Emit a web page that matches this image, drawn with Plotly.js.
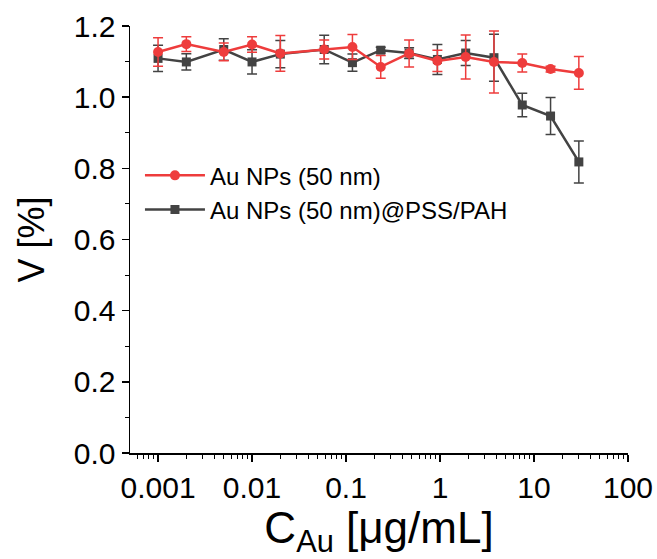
<!DOCTYPE html>
<html>
<head>
<meta charset="utf-8">
<script src="https://cdn.plot.ly/plotly-3.0.1.min.js"></script>
<style>html,body{margin:0;padding:0;background:#fff;}#chart{width:657px;height:559px;}</style>
</head>
<body>
<div id="chart"></div>
<script>
// Concentration of Au (µg/mL)
const concentrations = [0.001, 0.002, 0.005, 0.01, 0.02, 0.0586, 0.117, 0.234, 0.469, 0.9375, 1.875, 3.75, 7.5, 15, 30];

// Au NPs (50 nm)
const bareValues = [1.127, 1.149, 1.127, 1.148, 1.123, 1.134, 1.141, 1.085, 1.123, 1.102, 1.113, 1.099, 1.096, 1.079, 1.068];
const bareErrors = [0.040, 0.021, 0.025, 0.022, 0.050, 0.027, 0.035, 0.032, 0.038, 0.030, 0.062, 0.087, 0.025, 0.008, 0.046];

// Au NPs (50 nm)@PSS/PAH
const coatedValues = [1.109, 1.099, 1.134, 1.099, 1.121, 1.134, 1.097, 1.132, 1.124, 1.106, 1.124, 1.111, 0.978, 0.947, 0.818];
const coatedErrors = [0.037, 0.023, 0.030, 0.034, 0.038, 0.040, 0.024, 0.008, 0.015, 0.042, 0.035, 0.066, 0.033, 0.052, 0.059];

const xTickVals = [0.001, 0.01, 0.1, 1, 10, 100];
const xTickText = ["0.001", "0.01", "0.1", "1", "10", "100"];
const yTickVals = [0.0, 0.2, 0.4, 0.6, 0.8, 1.0, 1.2];
const yTickText = ["0.0", "0.2", "0.4", "0.6", "0.8", "1.0", "1.2"];

const RED = '#ee3c3c';
const GRAY = '#434343';
const FONT = 'Liberation Sans, Arial, sans-serif';

const traces = [
  {
    x: concentrations, y: coatedValues, name: 'Au NPs (50 nm)@PSS/PAH',
    type: 'scatter', mode: 'lines+markers', legendrank: 2,
    line: {color: GRAY, width: 2.5},
    marker: {symbol: 'square', size: 9, color: GRAY},
    error_y: {type: 'data', array: coatedErrors, visible: true, color: GRAY, thickness: 1.5, width: 5}
  },
  {
    x: concentrations, y: bareValues, name: 'Au NPs (50 nm)',
    type: 'scatter', mode: 'lines+markers', legendrank: 1,
    line: {color: RED, width: 2.5},
    marker: {symbol: 'circle', size: 10, color: RED},
    error_y: {type: 'data', array: bareErrors, visible: true, color: RED, thickness: 1.5, width: 5}
  }
];

const layout = {
  width: 657, height: 559,
  margin: {l: 130, r: 29, t: 26, b: 106},
  paper_bgcolor: '#fff', plot_bgcolor: '#fff',
  font: {family: FONT, color: '#000'},
  showlegend: true,
  legend: {
    x: 0.02, y: 0.702, xanchor: 'left', yanchor: 'top',
    bgcolor: 'rgba(0,0,0,0)', font: {family: FONT, size: 24, color: '#000'},
    tracegroupgap: 0, itemwidth: 60
  },
  xaxis: {
    type: 'log', range: [Math.log10(0.000503), 2],
    tickmode: 'array', tickvals: xTickVals, ticktext: xTickText,
    ticks: 'outside', ticklen: 7, tickwidth: 1.5, tickcolor: '#000',
    minor: {ticks: 'outside', ticklen: 4, tickwidth: 1, tickcolor: '#000', dtick: 'D1', showgrid: false},
    showline: true, linecolor: '#000', linewidth: 1.5,
    showgrid: false, zeroline: false,
    tickfont: {family: FONT, size: 30, color: '#000'},
    title: {text: 'C<sub>Au</sub> [μg/mL]', font: {family: FONT, size: 44, color: '#000'}, standoff: 6}
  },
  yaxis: {
    range: [0, 1.2],
    tickmode: 'array', tickvals: yTickVals, ticktext: yTickText,
    ticks: 'outside', ticklen: 7, tickwidth: 1.5, tickcolor: '#000',
    minor: {ticks: 'outside', ticklen: 4, tickwidth: 1, tickcolor: '#000', dtick: 0.1, showgrid: false},
    showline: true, linecolor: '#000', linewidth: 1.5,
    showgrid: false, zeroline: false,
    tickfont: {family: FONT, size: 30, color: '#000'},
    title: {text: 'V [%]', font: {family: FONT, size: 36, color: '#000'}, standoff: 18}
  }
};

Plotly.newPlot('chart', traces, layout, {displayModeBar: false, staticPlot: true});
</script>
</body>
</html>
